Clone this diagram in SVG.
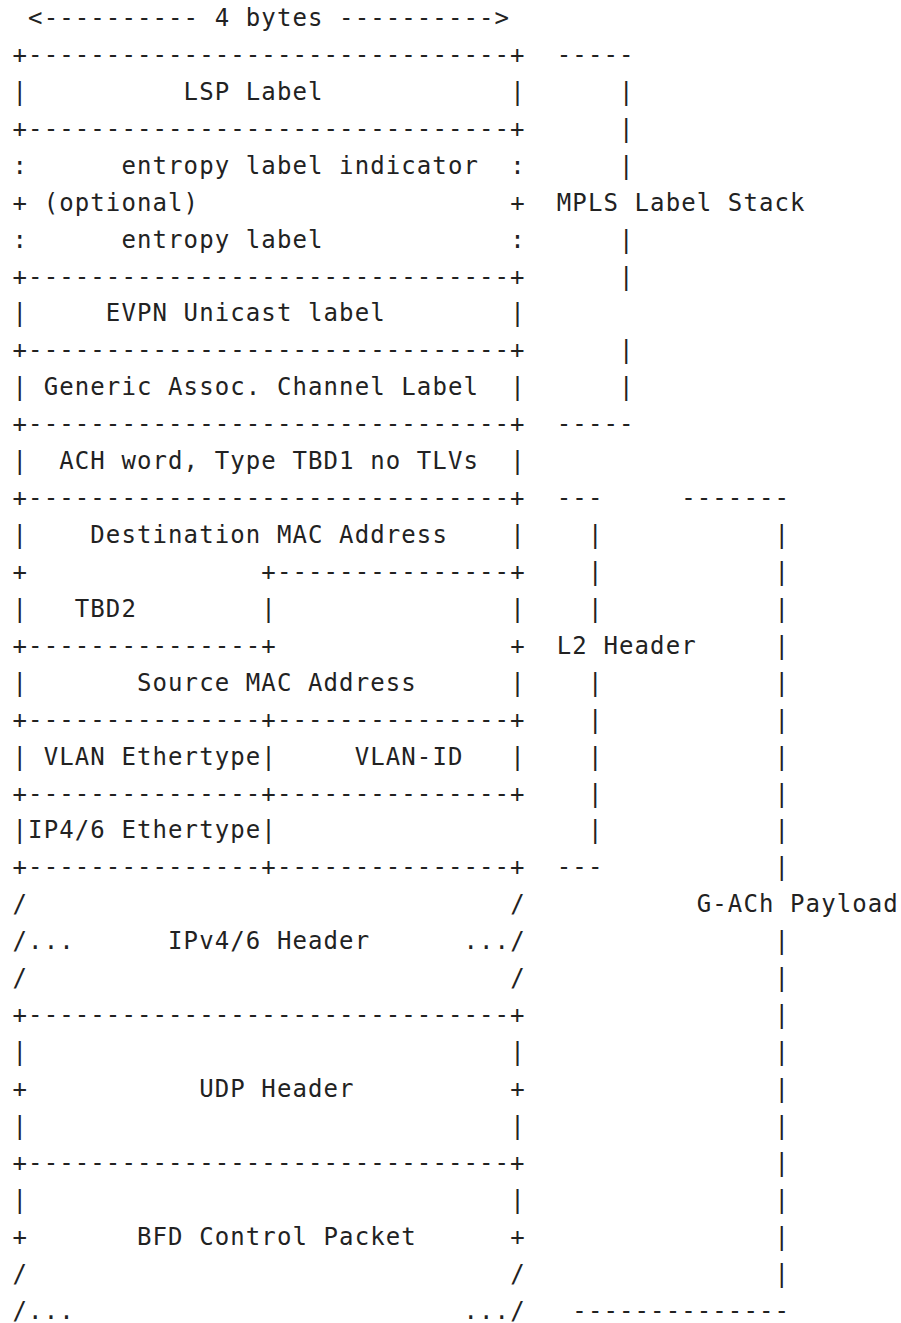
<svg xmlns="http://www.w3.org/2000/svg" width="901" height="1323" viewBox="0 0 901 1323">
<style>
text { font-family: "DejaVu Sans Mono", "Liberation Mono", monospace; font-size: 24px; letter-spacing: 1.1px; fill: #222222; }
</style>
<rect x="0" y="0" width="901" height="1323" fill="#ffffff"/>
<g id="width-arrow">
<text x="28.1" y="26">&lt;---------- 4 bytes ----------&gt;</text>
</g>
<g id="packet-layout">
<text x="12.55" y="62.93">+-------------------------------+</text>
<text x="12.55" y="99.86">|</text><text x="183.6" y="99.86">LSP Label</text><text x="510.15" y="99.86">|</text>
<text x="12.55" y="136.79">+-------------------------------+</text>
<text x="12.55" y="173.72">:</text><text x="121.4" y="173.72">entropy label indicator</text><text x="510.15" y="173.72">:</text>
<text x="12.55" y="210.65">+ (optional)</text><text x="510.15" y="210.65">+</text>
<text x="12.55" y="247.58">:</text><text x="121.4" y="247.58">entropy label</text><text x="510.15" y="247.58">:</text>
<text x="12.55" y="284.51">+-------------------------------+</text>
<text x="12.55" y="321.44">|</text><text x="105.85" y="321.44">EVPN Unicast label</text><text x="510.15" y="321.44">|</text>
<text x="12.55" y="358.37">+-------------------------------+</text>
<text x="12.55" y="395.30">| Generic Assoc. Channel Label</text><text x="510.15" y="395.30">|</text>
<text x="12.55" y="432.23">+-------------------------------+</text>
<text x="12.55" y="469.16">|</text><text x="59.2" y="469.16">ACH word, Type TBD1 no TLVs</text><text x="510.15" y="469.16">|</text>
<text x="12.55" y="506.09">+-------------------------------+</text>
<text x="12.55" y="543.02">|</text><text x="90.3" y="543.02">Destination MAC Address</text><text x="510.15" y="543.02">|</text>
<text x="12.55" y="579.95">+</text><text x="261.35" y="579.95">+---------------+</text>
<text x="12.55" y="616.88">|</text><text x="74.75" y="616.88">TBD2</text><text x="261.35" y="616.88">|</text><text x="510.15" y="616.88">|</text>
<text x="12.55" y="653.81">+---------------+</text><text x="510.15" y="653.81">+</text>
<text x="12.55" y="690.74">|</text><text x="136.95" y="690.74">Source MAC Address</text><text x="510.15" y="690.74">|</text>
<text x="12.55" y="727.67">+---------------+---------------+</text>
<text x="12.55" y="764.60">| VLAN Ethertype|</text><text x="354.65" y="764.60">VLAN-ID</text><text x="510.15" y="764.60">|</text>
<text x="12.55" y="801.53">+---------------+---------------+</text>
<text x="12.55" y="838.46">|IP4/6 Ethertype|</text>
<text x="12.55" y="875.39">+---------------+---------------+</text>
<text x="12.55" y="912.32">/</text><text x="510.15" y="912.32">/</text>
<text x="12.55" y="949.25">/...</text><text x="168.05" y="949.25">IPv4/6 Header</text><text x="463.5" y="949.25">.../</text>
<text x="12.55" y="986.18">/</text><text x="510.15" y="986.18">/</text>
<text x="12.55" y="1023.11">+-------------------------------+</text>
<text x="12.55" y="1060.04">|</text><text x="510.15" y="1060.04">|</text>
<text x="12.55" y="1096.97">+</text><text x="199.15" y="1096.97">UDP Header</text><text x="510.15" y="1096.97">+</text>
<text x="12.55" y="1133.90">|</text><text x="510.15" y="1133.90">|</text>
<text x="12.55" y="1170.83">+-------------------------------+</text>
<text x="12.55" y="1207.76">|</text><text x="510.15" y="1207.76">|</text>
<text x="12.55" y="1244.69">+</text><text x="136.95" y="1244.69">BFD Control Packet</text><text x="510.15" y="1244.69">+</text>
<text x="12.55" y="1281.62">/</text><text x="510.15" y="1281.62">/</text>
<text x="12.55" y="1318.55">/...</text><text x="463.5" y="1318.55">.../</text>
</g>
<g id="mpls-label-stack">
<text x="556.8" y="62.93">-----</text>
<text x="619" y="99.86">|</text>
<text x="619" y="136.79">|</text>
<text x="619" y="173.72">|</text>
<text x="556.8" y="210.65">MPLS Label Stack</text>
<text x="619" y="247.58">|</text>
<text x="619" y="284.51">|</text>
<text x="619" y="358.37">|</text>
<text x="619" y="395.30">|</text>
<text x="556.8" y="432.23">-----</text>
</g>
<g id="l2-header">
<text x="556.8" y="506.09">---</text>
<text x="587.9" y="543.02">|</text>
<text x="587.9" y="579.95">|</text>
<text x="587.9" y="616.88">|</text>
<text x="556.8" y="653.81">L2 Header</text>
<text x="587.9" y="690.74">|</text>
<text x="587.9" y="727.67">|</text>
<text x="587.9" y="764.60">|</text>
<text x="587.9" y="801.53">|</text>
<text x="587.9" y="838.46">|</text>
<text x="556.8" y="875.39">---</text>
</g>
<g id="g-ach-payload">
<text x="681.2" y="506.09">-------</text>
<text x="774.5" y="543.02">|</text>
<text x="774.5" y="579.95">|</text>
<text x="774.5" y="616.88">|</text>
<text x="774.5" y="653.81">|</text>
<text x="774.5" y="690.74">|</text>
<text x="774.5" y="727.67">|</text>
<text x="774.5" y="764.60">|</text>
<text x="774.5" y="801.53">|</text>
<text x="774.5" y="838.46">|</text>
<text x="774.5" y="875.39">|</text>
<text x="696.75" y="912.32">G-ACh Payload</text>
<text x="774.5" y="949.25">|</text>
<text x="774.5" y="986.18">|</text>
<text x="774.5" y="1023.11">|</text>
<text x="774.5" y="1060.04">|</text>
<text x="774.5" y="1096.97">|</text>
<text x="774.5" y="1133.90">|</text>
<text x="774.5" y="1170.83">|</text>
<text x="774.5" y="1207.76">|</text>
<text x="774.5" y="1244.69">|</text>
<text x="774.5" y="1281.62">|</text>
<text x="572.35" y="1318.55">--------------</text>
</g>
</svg>
